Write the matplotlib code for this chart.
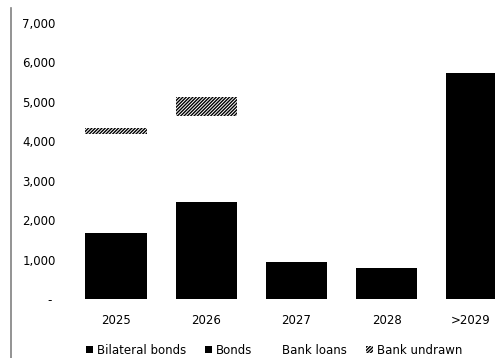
import matplotlib
matplotlib.use("Agg")
import matplotlib.pyplot as plt
from matplotlib.patches import Patch
from matplotlib.lines import Line2D
from matplotlib.transforms import ScaledTranslation
import numpy as np

categories = ['2025', '2026', '2027', '2028', '>2029']
bilateral_bonds = [0, 0, 0, 0, 0]
bonds = [1675, 2460, 940, 790, 5730]
bank_loans = [2515, 2190, 0, 0, 0]
bank_undrawn = [150, 480, 0, 0, 0]
yticks = [0, 1000, 2000, 3000, 4000, 5000, 6000, 7000]
ytick_labels = ['- ', '1,000', '2,000', '3,000', '4,000', '5,000', '6,000', '7,000']

plt.rcParams['font.family'] = ['DejaVu Sans']
plt.rcParams['hatch.linewidth'] = 1.0

fig = plt.figure(figsize=(4.95, 3.58), dpi=100)
ax = fig.add_axes([62/495, 1-299/358, 1-62/495, (299-23)/358])

x = np.arange(len(categories))
w = 0.68
b0 = np.zeros(len(categories))
ax.bar(x, bilateral_bonds, w, bottom=b0, color='black', label='Bilateral bonds')
b1 = b0 + np.array(bilateral_bonds)
ax.bar(x, bonds, w, bottom=b1, color='black', label='Bonds')
b2 = b1 + np.array(bonds)
ax.bar(x, bank_loans, w, bottom=b2, color='white', label='Bank loans')
b3 = b2 + np.array(bank_loans)
ax.bar(x, bank_undrawn, w, bottom=b3, color='white', edgecolor='black',
       hatch='/' * 10, linewidth=0, label='Bank undrawn')

ax.set_xlim(-0.6, 4.2)
ax.set_ylim(0, 7000)
ax.set_yticks(yticks)
ax.set_yticklabels(ytick_labels)
ax.set_xticks(x)
ax.set_xticklabels(categories)
for s in ax.spines.values():
    s.set_visible(False)
ax.tick_params(axis='both', length=0, labelsize=8.5, colors='black')
ax.tick_params(axis='y', pad=4.5)
ax.tick_params(axis='x', pad=10.5)

last = ax.get_xticklabels()[-1]
last.set_transform(last.get_transform() + ScaledTranslation(-6/100, 0, fig.dpi_scale_trans))

handles = [Patch(facecolor='black', label='Bilateral bonds'),
           Patch(facecolor='black', label='Bonds'),
           Patch(facecolor='white', label='Bank loans'),
           Patch(facecolor='white', edgecolor='black', hatch='/' * 10, linewidth=0, label='Bank undrawn')]
fig.legend(handles=handles, loc='center', bbox_to_anchor=(274/495, 1-350/358), ncol=4,
           frameon=False, fontsize=8.5, handlelength=0.6, handleheight=0.6,
           handletextpad=0.34, columnspacing=1.6, borderpad=0, borderaxespad=0)

fig.add_artist(Line2D([11/495, 11/495], [0, 1-8/358], color='#808080', linewidth=1.2,
                      transform=fig.transFigure))

fig.savefig('out.png', dpi=100)
